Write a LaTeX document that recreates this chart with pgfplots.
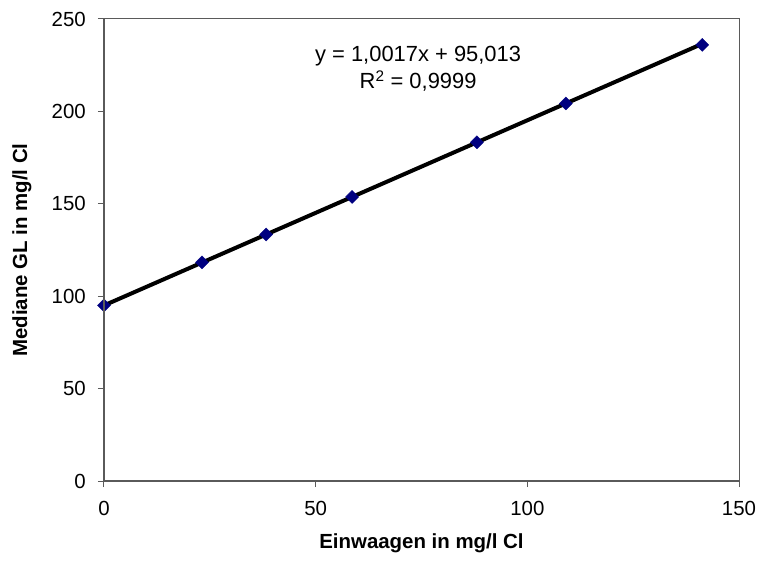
\documentclass[border=0pt]{standalone}
\usepackage{pgfplots}
\pgfplotsset{compat=1.18}
\usepackage{fontspec}
\setmainfont{Liberation Sans}
\definecolor{navy}{RGB}{0,0,128}
\definecolor{axgray}{RGB}{90,90,90}
\begin{document}
\begin{tikzpicture}
\begin{axis}[
  width=635bp, height=462bp, scale only axis,
  xmin=0, xmax=150, ymin=0, ymax=250,
  xtick={0,50,100,150}, ytick={0,50,100,150,200,250},
  tick align=outside, tick pos=left,
  major tick length=6bp,
  every tick/.style={axgray, line width=1bp},
  axis line style={draw=none},
  /pgf/number format/assume math mode=true,
  tick label style={font=\fontsize{20.5}{24}\selectfont, inner sep=0pt},
  xticklabel style={yshift=-14bp},
  yticklabel style={xshift=-12bp},
  xlabel={\textbf{Einwaagen in mg/l Cl}},
  ylabel={\textbf{Mediane GL in mg/l Cl}},
  label style={font=\fontsize{20.5}{24}\selectfont},
  xlabel style={at={(rel axis cs:0.5,0)}, anchor=center, yshift=-62bp},
  ylabel style={at={(rel axis cs:0,0.5)}, anchor=center, yshift=82bp},
  clip=false,
  after end axis/.code={
    \draw[axgray, line width=1bp] (rel axis cs:0,1) -- (rel axis cs:1,1) -- (rel axis cs:1,0);
    \draw[axgray, line width=2bp] (rel axis cs:0,1) -- (rel axis cs:0,0) -- (rel axis cs:1,0);
    \path (rel axis cs:0,0) ++(-104bp,-91bp) coordinate (bbA);
    \path (rel axis cs:1,1) ++(20bp,19bp) coordinate (bbB);
    \node[font=\fontsize{22}{26}\selectfont, align=center, anchor=center] at (axis cs:74.2,223) {y = 1,0017x + 95,013\\[1bp]R\textsuperscript{2} = 0,9999};
  }
]
\addplot[only marks, mark=square*, mark size=4.6bp, mark options={rotate=45, fill=navy, draw=navy}]
  coordinates {(0,95.0) (23.15,118.3) (38.3,133.4) (58.6,153.7) (88.1,183.3) (109.1,204.3) (141.3,236.0)};
\addplot[black, line width=4bp] coordinates {(0,95.013) (141.3,236.55)};
\end{axis}
\useasboundingbox (bbA) rectangle (bbB);
\end{tikzpicture}
\end{document}
